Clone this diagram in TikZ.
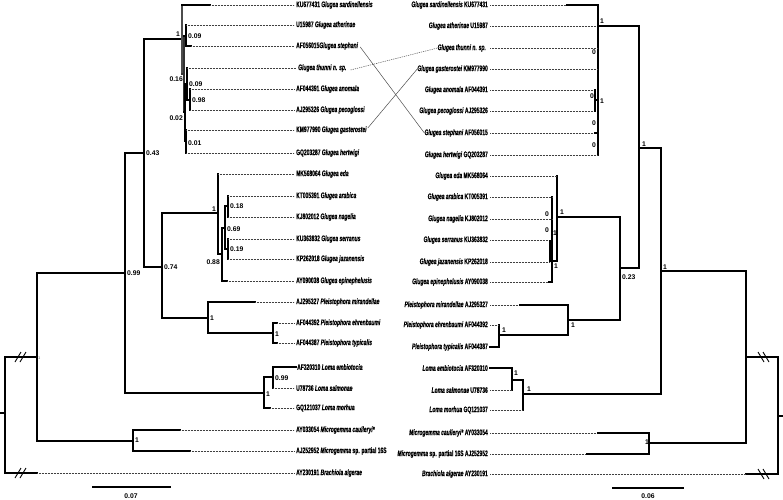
\documentclass[tikz,border=0pt]{standalone}
\usepackage{fontspec}
\setmainfont{Liberation Sans}
\newfontfamily\narrowf[FakeStretch=0.62,FakeBold=0.6,ItalicFont={Liberation Sans Bold Italic}]{Liberation Sans Bold}
\newcommand{\spn}[1]{\textit{#1}}
\begin{document}
\begin{tikzpicture}[x=1pt,y=-1pt,
 every node/.style={inner sep=0pt},
 lab/.style={font=\narrowf\fontsize{8}{8}\selectfont},
 ll/.style={lab,anchor=west},
 rl/.style={lab,anchor=east},
 bs/.style={font=\bfseries\fontsize{6.8}{7}\selectfont},
 bw/.style={bs,anchor=west},
 be/.style={bs,anchor=east},
 hb/.style={line width=1.6pt,line cap=rect},
 vb/.style={line width=1.2pt,line cap=rect},
 dl/.style={line width=0.7pt,dash pattern=on 0.8pt off 0.7pt,black!75},
 cn/.style={line width=0.5pt,black!70},
 brk/.style={line width=0.9pt}]
\useasboundingbox (0,0) rectangle (783,499);

% ---------------- left labels ----------------
\node[ll] (l1) at (296,5) {KU677431 \spn{Glugea sardinellensis}};
\node[ll] (l2) at (296,25) {U15987 \spn{Glugea atherinae}};
\node[ll] (l3) at (296,46) {AF056015\spn{Glugea stephani}};
\node[ll] (l4) at (298,68) {\spn{Glugea thunni n. sp.}};
\node[ll] (l5) at (296,89) {AF044391 \spn{Glugea anomala}};
\node[ll] (l6) at (296,110) {AJ295326 \spn{Glugea pecoglossi}};
\node[ll] (l7) at (296,130) {KM977990 \spn{Glugea gasterostei}};
\node[ll] (l8) at (296,153) {GQ203287 \spn{Glugea hertwigi}};
\node[ll] (l9) at (296,174) {MK568064 \spn{Glugea eda}};
\node[ll] (l10) at (296,196) {KT005391 \spn{Glugea arabica}};
\node[ll] (l11) at (296,217) {KJ802012 \spn{Glugea nagelia}};
\node[ll] (l12) at (296,239) {KU363832 \spn{Glugea serranus}};
\node[ll] (l13) at (296,259) {KP262018 \spn{Glugea jazanensis}};
\node[ll] (l14) at (296,281) {AY090038 \spn{Glugea epinephelusis}};
\node[ll] (l15) at (296,302) {AJ295327 \spn{Pleistophora mirandellae}};
\node[ll] (l16) at (296,323) {AF044392 \spn{Pleistophora ehrenbaumi}};
\node[ll] (l17) at (296,343) {AF044387 \spn{Pleistophora typicalis}};
\node[ll] (l18) at (297,367) {AF320310 \spn{Loma embiotocia}};
\node[ll] (l19) at (296,388) {U78736 \spn{Loma salmonae}};
\node[ll] (l20) at (296,408) {GQ121037 \spn{Loma morhua}};
\node[ll] (l21) at (296,430) {AY033054 \spn{Microgemma caulleryi*}};
\node[ll] (l22) at (296,451) {AJ252952 \spn{Microgemma} sp. partial 16S};
\node[ll] (l23) at (296,473) {AY230191 \spn{Brachiola algerae}};

% ---------------- right labels ----------------
\node[rl] (r1) at (488,5) {\spn{Glugea sardinellensis} KU677431};
\node[rl] (r2) at (488,26) {\spn{Glugea atherinae} U15987};
\node[rl] (r3) at (486,48) {\spn{Glugea thunni n. sp.}};
\node[rl] (r4) at (488,69) {\spn{Glugea gasterostei} KM977990};
\node[rl] (r5) at (488,90) {\spn{Glugea anomala} AF044391};
\node[rl] (r6) at (488,111) {\spn{Glugea pecoglossi} AJ295326};
\node[rl] (r7) at (488,133) {\spn{Glugea stephani} AF056015};
\node[rl] (r8) at (488,155) {\spn{Glugea hertwigi} GQ203287};
\node[rl] (r9) at (488,176) {\spn{Glugea eda} MK568064};
\node[rl] (r10) at (488,197) {\spn{Glugea arabica} KT005391};
\node[rl] (r11) at (488,219) {\spn{Glugea nagelia} KJ802012};
\node[rl] (r12) at (488,240) {\spn{Glugea serranus} KU363832};
\node[rl] (r13) at (488,262) {\spn{Glugea jazanensis} KP262018};
\node[rl] (r14) at (488,282) {\spn{Glugea epinephelusis} AY090038};
\node[rl] (r15) at (488,305) {\spn{Pleistophora mirandellae} AJ295327};
\node[rl] (r16) at (488,325) {\spn{Pleistophora ehrenbaumi} AF044392};
\node[rl] (r17) at (488,347) {\spn{Pleistophora typicalis} AF044387};
\node[rl] (r18) at (488,368) {\spn{Loma embiotocia} AF320310};
\node[rl] (r19) at (488,390) {\spn{Loma salmonae} U78736};
\node[rl] (r20) at (488,410) {\spn{Loma morhua} GQ121037};
\node[rl] (r21) at (488,433) {\spn{Microgemma caulleryi*} AY033054};
\node[rl] (r22) at (488,454) {\spn{Microgemma} sp. partial 16S AJ252952};
\node[rl] (r23) at (488,474) {\spn{Brachiola algerae} AY230191};

% ---------------- tanglegram connectors ----------------
\draw[cn] (l3.east) ++(2,1) -- (r7.west);
\draw[cn,dash pattern=on 1.2pt off 1pt] (l4.east) ++(4,2) -- (r3.west);
\draw[cn] (l7.east) ++(1,-2) -- (r4.west);

% ---------------- left tree ----------------
\draw[vb] (5,357) -- (5,473);
\draw[hb] (0,413) -- (5,413);
\draw[hb] (5,357) -- (37,357);
\draw[hb] (5,473) -- (37,473);
\draw[brk] (15,362) -- (21,352) (20,362) -- (26,352);
\draw[brk] (15,478) -- (21,468) (20,478) -- (26,468);
\draw[dl] (37,473) -- (294,473);
\node[font=\fontsize{4}{4}\selectfont,text=black!55,anchor=west] (g1) at (38,358) {1};
\draw[vb] (37,273) -- (37,441);
\draw[hb] (37,441) -- (133,441);
\draw[vb] (133,430) -- (133,451);
\draw[hb] (133,430) -- (180,430); \draw[dl] (180,430) -- (294,430);
\draw[hb] (133,451) -- (190,451); \draw[dl] (190,451) -- (294,451);
\node[bw] (s1) at (135,440) {1};
\draw[hb] (37,273) -- (125,273);
\node[bw] (s2) at (127,273) {0.99};
\draw[vb] (125,153) -- (125,393);
\draw[hb] (125,393) -- (264,393);
\draw[vb] (264,377) -- (264,408);
\draw[hb] (264,377) -- (273,377);
\draw[vb] (273,367) -- (273,388);
\draw[hb] (273,367) -- (296,367);
\draw[dl] (273,388) -- (294,388);
\draw[hb] (264,408) -- (270,408); \draw[dl] (270,408) -- (294,408);
\node[bw] (s3) at (275,378) {0.99};
\node[bw] (s4) at (266,394) {1};
\draw[hb] (125,153) -- (144,153);
\node[bw] (s5) at (146,153) {0.43};
\draw[vb] (144,39) -- (144,267);
\draw[hb] (144,267) -- (162,267);
\node[bw] (s6) at (164,267) {0.74};
\draw[vb] (162,213) -- (162,318);
\draw[hb] (162,318) -- (208,318);
\draw[vb] (208,302) -- (208,333);
\draw[hb] (208,302) -- (255,302); \draw[dl] (255,302) -- (294,302);
\draw[hb] (208,333) -- (273,333);
\draw[vb] (273,323) -- (273,343);
\draw[hb] (273,323) -- (277,323); \draw[dl] (277,323) -- (294,323);
\draw[hb] (273,343) -- (277,343); \draw[dl] (277,343) -- (294,343);
\node[bw] (s7) at (210,318) {1};
\node[bw] (s8) at (275,334) {1};
% Glugea group 2
\draw[hb] (162,213) -- (218,213);
\node[be] (s9) at (216,209) {1};
\draw[vb] (218,174) -- (218,254);
\draw[dl] (218,174) -- (294,174);
\draw[hb] (218,254) -- (222,254);
\draw[vb] (222,228) -- (222,281);
\draw[hb] (222,281) -- (227,281); \draw[dl] (227,281) -- (294,281);
\draw[hb] (222,228) -- (225,228);
\draw[vb] (225,206) -- (225,249);
\draw[hb] (225,206) -- (228,206) (225,249) -- (228,249);
\draw[vb] (228,196) -- (228,217) (228,239) -- (228,259);
\draw[dl] (228,196) -- (294,196) (228,217) -- (294,217) (228,239) -- (294,239) (228,259) -- (294,259);
\node[bw] (s10) at (230,206) {0.18};
\node[bw] (s11) at (227,229) {0.69};
\node[bw] (s12) at (230,249) {0.19};
\node[be] (s13) at (220,262) {0.88};
% Glugea group 1
\draw[hb] (144,39) -- (182,39);
\node[be] (s14) at (180,34) {1};
\draw[vb,black!70] (182,5) -- (182,74);
\draw[hb] (182,5) -- (210,5); \draw[dl] (210,5) -- (294,5);
\draw[vb,black!80] (182,74) -- (184,74);
\draw[vb,black!80] (184,36) -- (184,112);
\draw[vb] (184,36) -- (186,36);
\draw[vb] (186,25) -- (186,46);
\draw[dl] (186,25) -- (294,25);
\draw[hb] (186,46) -- (191,46); \draw[dl] (191,46) -- (294,46);
\draw[vb] (184,112) -- (185,112);
\draw[vb] (185,84) -- (185,141);
\draw[vb] (185,84) -- (187,84);
\draw[vb] (187,68) -- (187,100);
\draw[dl] (187,68) -- (296,68);
\draw[vb] (187,100) -- (190,100);
\draw[vb] (190,89) -- (190,110);
\draw[dl] (190,89) -- (294,89) (190,110) -- (294,110);
\draw[vb] (185,141) -- (186,141);
\draw[vb] (186,130) -- (186,153);
\draw[dl] (186,130) -- (294,130) (186,153) -- (294,153);
\node[bw] (s15) at (188,36) {0.09};
\node[be] (s16) at (183,79) {0.16};
\node[bw] (s17) at (189,84) {0.09};
\node[bw] (s18) at (192,100) {0.98};
\node[be] (s19) at (183,118) {0.02};
\node[bw] (s20) at (188,143) {0.01};
% scale
\draw[hb] (93,487) -- (170,487);
\node[bs] (sc1) at (131,496) {0.07};

% ---------------- right tree ----------------
\draw[dl] (490,5) -- (567,5); \draw[hb] (567,5) -- (598,5);
\draw[vb] (598,5) -- (598,155);
\draw[dl] (490,26) -- (598,26); \draw[hb] (598,26) -- (639,26);
\draw[dl] (490,48) -- (598,48) (490,69) -- (598,69);
\draw[dl] (490,90) -- (595,90) (490,111) -- (595,111);
\draw[vb] (595,90) -- (595,111); \draw[hb] (595,100) -- (598,100);
\draw[dl] (490,133) -- (595,133); \draw[hb] (595,133) -- (598,133);
\draw[dl] (490,155) -- (598,155);
\node[bw] (t1) at (600,21) {1};
\node[be] (t2) at (596,52) {0};
\node[be] (t3) at (594,96) {0};
\node[bw] (t4) at (600,101) {1};
\node[be] (t5) at (596,123) {0};
\node[be] (t6) at (596,145) {0};
\draw[vb] (639,26) -- (639,268);
\draw[hb] (639,148) -- (661,148);
\node[bw] (t7) at (642,144) {1};
\draw[vb] (661,148) -- (661,394);
\draw[hb] (661,271) -- (746,271);
\node[bw] (t8) at (663,267) {1};
\draw[vb] (746,271) -- (746,443);
\draw[hb] (746,357) -- (778,357);
\draw[vb] (778,357) -- (778,474);
\draw[hb] (778,416) -- (783,416);
\draw[hb] (746,474) -- (778,474);
\draw[dl] (490,474) -- (746,474);
\draw[brk] (758,352) -- (764,362) (763,352) -- (769,362);
\draw[brk] (758,469) -- (764,479) (763,469) -- (769,479);
\draw[hb] (620,268) -- (639,268);
\draw[vb] (620,217) -- (620,320);
\node[bw] (t9) at (622,277) {0.23};
\draw[hb] (557,217) -- (620,217);
\draw[vb] (557,176) -- (557,261);
\node[bw] (t10) at (560,212) {1};
\draw[dl] (490,176) -- (557,176);
\draw[hb] (552,261) -- (557,261);
\draw[vb] (552,197) -- (552,282);
\draw[dl] (490,197) -- (552,197) (490,219) -- (552,219) (490,240) -- (550,240) (490,262) -- (550,262) (490,282) -- (549,282);
\draw[hb] (549,282) -- (552,282);
\draw[line width=1.6pt] (550,240) -- (550,262);
\node[be] (t11) at (549,214) {0};
\node[be] (t12) at (549,230) {0};
\node[bw] (t13) at (553,233) {1};
\node[bw] (t14) at (554,266) {1};
\draw[hb] (568,320) -- (620,320);
\draw[vb] (568,305) -- (568,335);
\node[bw] (t15) at (571,325) {1};
\draw[dl] (490,305) -- (520,305); \draw[hb] (520,305) -- (568,305);
\draw[hb] (499,335) -- (568,335);
\draw[vb] (499,325) -- (499,347);
\node[bw] (t16) at (502,330) {1};
\draw[dl] (490,325) -- (499,325); \draw[hb] (490,347) -- (499,347);
\draw[hb] (523,394) -- (661,394);
\draw[vb] (523,380) -- (523,410);
\node[bw] (t17) at (527,389) {1};
\draw[hb] (512,380) -- (523,380);
\draw[vb] (512,368) -- (512,390);
\node[bw] (t18) at (514,373) {1};
\draw[hb] (490,368) -- (512,368);
\draw[dl] (490,390) -- (512,390) (490,410) -- (523,410);
\draw[hb] (649,443) -- (746,443);
\draw[vb] (649,433) -- (649,454);
\node[be] (t19) at (649,442) {1};
\draw[dl] (490,433) -- (598,433); \draw[hb] (598,433) -- (649,433);
\draw[dl] (490,454) -- (587,454); \draw[hb] (587,454) -- (649,454);
% scale
\draw[hb] (613,488) -- (683,488);
\node[bs] (sc2) at (648,496) {0.06};
\end{tikzpicture}
\end{document}
